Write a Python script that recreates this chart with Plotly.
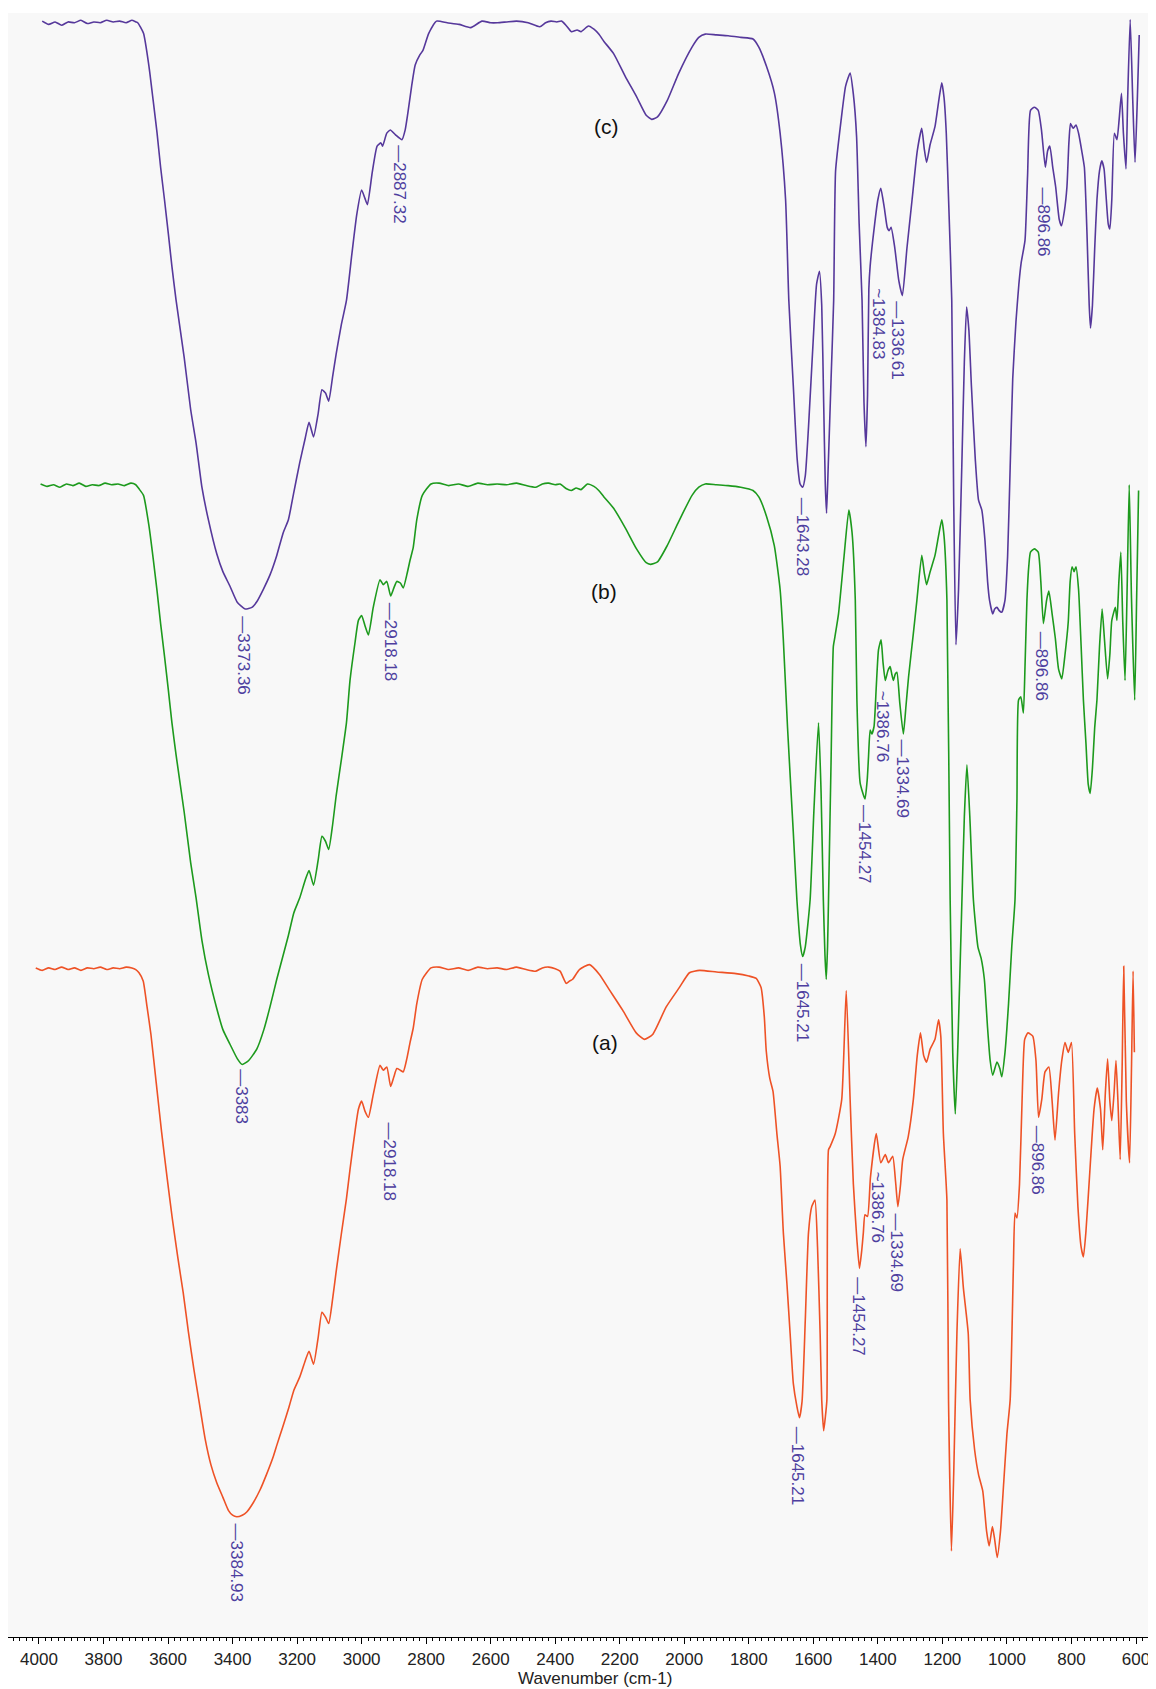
import plotly.graph_objects as go

# ---------------- data (wavenumber cm-1, transmittance a.u.) ----------------
c_w = [3990,3970,3950,3930,3910,3890,3870,3850,3830,3810,3790,3770,3750,3730,3712,3700,3694,3676,3659,3646,3634,3623,3611,3599,3588,3575,3550,3530,3513,3495,3475,3449,3430,3408,3385,3361,3340,3325,3305,3284,3263,3243,3227,3210,3192,3175,3163,3149,3135,3123,3112,3102,3090,3079,3063,3047,3030,3015,3000,2990,2982,2967,2952,2940,2935,2922,2911,2895,2875,2865,2857,2845,2834,2820,2810,2792,2768,2735,2698,2662,2627,2600,2579,2550,2520,2484,2448,2430,2413,2395,2380,2365,2350,2332,2320,2297,2280,2265,2249,2219,2183,2148,2118,2101,2083,2053,2017,1976,1955,1935,1900,1864,1825,1787,1769,1745,1721,1703,1686,1676,1662,1650,1641,1633,1625,1615,1600,1590,1581,1574,1568,1563,1559,1554,1545,1537,1531,1514,1500,1486,1476,1466,1458,1449,1443,1437,1432,1428,1424,1410,1400,1391,1380,1371,1365,1359,1348,1335,1324,1310,1294,1278,1264,1256,1249,1238,1223,1212,1202,1195,1188,1180,1171,1165,1158,1150,1140,1132,1125,1118,1110,1098,1088,1078,1068,1060,1054,1044,1038,1031,1024,1016,1006,998,990,982,972,963,956,944,936,927,915,903,893,881,874,867,858,849,838,831,822,814,808,803,795,786,778,768,760,752,745,741,735,728,721,713,706,699,693,686,681,675,667,659,652,645,639,631,626,618,610,603,596,590]
c_t = [99.5,99.3,99.45,99.25,99.45,99.4,99.55,99.35,99.45,99.4,99.55,99.45,99.5,99.4,99.55,99.45,99.4,98.75,96.7,94.6,92.6,90.5,88.5,86.4,84.4,82.3,78.8,75.6,73.5,70.8,68.8,66.7,65.6,64.7,63.7,63.3,63.4,63.75,64.5,65.4,66.6,68.0,68.8,70.5,72.3,73.8,74.8,73.9,75.3,76.8,76.6,76.1,77.6,79.0,80.8,82.3,85.2,87.6,89.1,88.6,88.2,90.2,91.8,92.0,91.8,92.6,92.8,92.5,92.2,92.8,93.8,95.5,96.8,97.4,97.7,98.75,99.5,99.4,99.3,99.1,99.5,99.4,99.4,99.45,99.5,99.4,99.15,99.4,99.5,99.45,99.5,99.2,98.85,98.95,98.85,99.2,99.0,98.7,98.25,97.5,96.1,94.85,93.7,93.45,93.6,94.6,96.3,97.9,98.5,98.7,98.65,98.6,98.5,98.4,97.9,96.7,95.1,92.6,88.5,82.3,77.0,72.5,71.0,70.8,71.5,74.5,80.0,83.3,84.1,82.0,76.0,71.0,69.2,72.0,77.5,82.3,90.3,93.4,95.5,96.3,95.0,92.4,87.0,82.3,76.0,73.3,76.5,83.0,84.4,87.0,88.5,89.2,88.0,86.8,86.6,86.8,85.6,83.5,82.6,85.5,88.5,91.5,92.9,91.6,90.8,91.9,93.0,94.5,95.7,94.8,92.6,88.0,82.3,70.0,61.1,64.5,72.0,78.5,81.9,80.5,77.0,72.5,70.0,69.4,67.5,65.0,63.85,63.0,63.3,63.4,63.2,63.1,63.85,66.5,72.0,77.5,81.0,83.3,84.6,86.0,90.0,94.0,94.2,94.0,92.8,90.5,91.5,91.8,90.5,89.3,87.3,86.9,87.8,89.3,92.0,93.2,92.9,93.1,92.6,91.5,90.5,86.5,82.0,80.6,82.0,85.5,88.5,90.3,90.9,90.4,88.8,87.0,86.7,88.5,92.6,92.2,93.5,95.05,92.6,90.4,94.6,99.6,94.6,90.8,94.6,98.65]

b_w = [3995,3975,3955,3935,3915,3895,3875,3855,3835,3815,3795,3775,3755,3735,3715,3700,3690,3676,3659,3646,3634,3623,3611,3599,3588,3575,3550,3530,3513,3495,3475,3449,3430,3408,3385,3370,3350,3325,3303,3284,3263,3243,3227,3210,3192,3175,3163,3149,3135,3123,3112,3102,3090,3079,3063,3047,3036,3020,3010,3000,2990,2979,2964,2943,2933,2922,2910,2900,2891,2880,2871,2860,2850,2840,2829,2812,2785,2760,2730,2700,2670,2640,2610,2580,2550,2520,2490,2460,2440,2420,2400,2385,2365,2350,2335,2320,2300,2280,2265,2249,2219,2183,2148,2118,2105,2083,2053,2017,1976,1955,1935,1900,1864,1825,1787,1769,1745,1721,1703,1693,1680,1662,1651,1640,1633,1625,1610,1598,1584,1576,1569,1564,1560,1556,1553,1545,1538,1533,1522,1505,1490,1480,1470,1465,1455,1440,1433,1429,1424,1419,1412,1405,1398,1390,1384,1377,1369,1362,1357,1352,1346,1341,1332,1321,1313,1305,1290,1279,1264,1256,1249,1238,1223,1212,1202,1195,1186,1176,1168,1160,1152,1140,1132,1124,1115,1104,1090,1080,1070,1060,1052,1044,1031,1022,1016,1006,995,985,975,969,964,957,949,944,938,932,927,915,903,895,887,877,870,860,850,840,830,820,810,804,798,792,786,778,770,763,755,748,742,735,728,721,713,705,698,688,681,675,664,659,653,647,641,634,628,621,614,604,598,592]
b_t = [71.0,70.85,70.95,70.8,71.0,70.9,71.05,70.85,70.95,70.9,71.05,70.95,71.0,70.9,71.05,70.95,70.7,70.3,68.4,66.4,64.4,62.4,60.4,58.3,56.3,54.3,50.8,47.7,45.5,42.9,40.8,38.7,37.4,36.5,35.6,35.25,35.5,36.2,37.4,38.8,40.5,42.0,43.2,44.6,45.5,46.6,47.2,46.3,47.8,49.3,49.0,48.5,50.0,51.8,54.0,56.3,58.9,61.3,62.6,62.9,62.3,61.7,63.4,65.1,64.8,65.0,64.1,64.6,65.0,64.9,64.6,65.4,66.3,67.1,68.8,70.3,71.0,71.05,70.9,71.0,70.85,71.05,70.95,71.0,70.95,71.05,70.9,70.8,71.0,71.05,70.95,71.0,70.7,70.6,70.75,70.65,71.0,70.85,70.6,70.2,69.5,68.3,67.0,66.15,66.05,66.2,67.2,68.7,70.3,70.8,71.0,70.95,70.9,70.8,70.6,70.2,69.0,67.2,64.5,61.4,56.0,49.5,45.4,42.6,41.9,42.5,45.4,51.0,56.3,52.0,45.4,42.0,40.5,42.5,45.4,54.0,61.0,61.6,63.0,66.5,69.4,68.0,63.85,57.7,52.6,51.6,52.8,54.2,55.85,55.6,56.05,58.5,60.8,61.4,60.0,58.9,59.5,59.75,59.3,58.9,59.3,59.4,57.5,55.6,57.3,59.1,61.8,63.85,66.6,65.5,64.8,65.6,66.6,67.8,68.8,67.8,63.85,45.4,36.0,32.2,36.5,45.0,50.5,53.7,50.5,45.4,42.5,41.8,40.5,37.5,35.5,34.6,35.4,35.0,34.5,36.0,39.0,42.5,45.4,51.5,57.7,57.9,56.9,59.75,63.85,66.0,66.8,67.0,66.8,65.0,62.4,63.85,64.4,63.0,61.5,59.6,59.0,60.5,62.5,65.0,65.9,65.6,65.9,64.5,61.0,57.7,55.0,52.5,51.95,53.5,56.0,57.7,61.0,63.3,61.5,59.0,60.5,62.6,63.4,62.6,65.0,66.8,62.5,58.9,64.0,70.95,64.0,57.7,64.0,70.6]

a_w = [4010,3990,3970,3950,3930,3910,3890,3870,3850,3830,3810,3790,3770,3750,3730,3712,3700,3690,3677,3665,3653,3637,3620,3603,3587,3570,3553,3537,3520,3503,3485,3467,3449,3430,3413,3400,3387,3370,3356,3335,3315,3295,3274,3263,3245,3226,3210,3192,3175,3163,3149,3135,3123,3112,3102,3090,3079,3063,3047,3036,3020,3010,3000,2990,2979,2964,2943,2933,2922,2910,2900,2891,2880,2871,2860,2850,2840,2829,2812,2785,2760,2730,2700,2670,2640,2610,2580,2550,2520,2490,2460,2440,2420,2400,2385,2366,2355,2346,2325,2294,2263,2232,2191,2149,2124,2098,2056,2015,1984,1953,1900,1840,1800,1777,1762,1752,1746,1735,1725,1713,1703,1693,1682,1672,1662,1651,1643,1635,1625,1615,1605,1595,1587,1579,1574,1568,1563,1558,1553,1548,1532,1512,1498,1486,1476,1465,1457,1450,1445,1440,1432,1423,1405,1391,1377,1367,1354,1345,1338,1330,1323,1306,1290,1278,1268,1258,1249,1238,1223,1212,1205,1197,1186,1181,1172,1165,1155,1145,1135,1120,1114,1100,1088,1075,1063,1055,1045,1038,1030,1020,1010,1000,990,980,975,969,961,953,945,935,920,910,902,892,882,870,860,851,840,830,820,810,800,790,780,770,763,755,742,730,720,710,703,695,688,681,675,668,662,656,649,643,638,630,620,614,609,605]
a_t = [41.2,41.05,41.2,41.1,41.25,41.1,41.2,41.05,41.2,41.15,41.25,41.1,41.2,41.15,41.25,41.2,41.1,40.9,40.4,38.8,37.1,34.2,31.1,28.3,25.8,23.4,21.2,18.8,16.5,14.4,12.2,10.6,9.5,8.6,7.8,7.5,7.4,7.5,7.7,8.3,9.05,10.0,11.1,11.8,12.9,14.1,15.2,16.0,17.0,17.6,16.8,18.4,20.0,19.7,19.3,20.8,22.5,24.8,27.0,28.8,31.2,32.5,33.0,32.4,32.0,33.4,35.2,34.9,35.1,33.9,34.5,35.0,34.9,34.8,35.6,36.6,37.5,39.0,40.5,41.2,41.25,41.1,41.2,41.05,41.25,41.15,41.2,41.1,41.25,41.1,41.0,41.2,41.25,41.15,41.0,40.25,40.4,40.5,41.1,41.4,40.8,39.85,38.6,37.2,36.8,37.1,38.8,40.0,40.9,41.05,40.95,40.85,40.7,40.55,40.0,38.2,36.1,34.4,33.6,31.0,29.0,24.9,21.8,18.7,15.6,14.2,13.5,14.5,19.5,24.9,26.5,26.9,24.0,18.7,14.6,12.7,13.5,14.6,30.0,30.2,31.0,33.1,39.8,33.1,27.9,24.45,22.7,23.8,24.9,26.0,25.9,28.3,31.0,29.2,29.7,29.2,29.6,28.0,26.5,27.8,29.4,30.8,33.1,35.8,37.2,35.8,35.4,36.2,36.8,38.0,37.0,31.0,26.9,14.6,5.3,10.0,18.7,23.9,21.5,18.7,14.6,11.5,10.0,9.0,6.5,5.6,6.8,6.0,4.9,6.5,9.5,12.5,14.6,22.8,26.1,25.8,27.9,33.1,36.8,37.2,37.0,35.5,32.0,33.1,34.8,35.1,33.0,30.6,33.5,35.5,36.6,36.0,36.6,31.0,26.5,24.0,23.4,25.0,29.0,32.5,33.8,32.5,30.0,33.5,35.6,33.0,31.8,33.5,35.5,33.0,29.4,35.0,41.3,33.0,29.2,35.0,41.0,36.0]

# peak labels: (wavenumber position, transmittance at label top, text)
c_labels = [(3366, 63.0, "—3373.36"), (2885, 92.0, "—2887.32"), (1633, 70.3, "—1643.28"),
            (1399, 83.2, "~1384.83"), (1339, 82.4, "—1336.61"), (888, 89.4, "—896.86")]
b_labels = [(3373, 35.1, "—3383"), (2912, 63.8, "—2918.18"), (1633, 41.6, "—1645.21"),
            (1440, 51.35, "—1454.27"), (1383, 58.4, "~1386.76"), (1323, 55.4, "—1334.69"),
            (892, 62.0, "—896.86")]
a_labels = [(3389, 7.1, "—3384.93"), (2915, 31.8, "—2918.18"), (1649, 13.1, "—1645.21"),
            (1460, 22.3, "—1454.27"), (1403, 28.75, "~1386.76"), (1341, 26.2, "—1334.69"),
            (905, 31.6, "—896.86")]

series_names = ["(c)", "(b)", "(a)"]
series_label_pos = [(2242, 93.0), (2249, 64.4), (2245, 36.6)]

x_title = "Wavenumber (cm-1)"

# ---------------- styles ----------------
C_COL = "#56389b"
B_COL = "#1d9a1d"
A_COL = "#ee5226"
LBL_COL = "#4e3f9f"
FONT = "Liberation Sans, Arial, sans-serif"

fig = go.Figure()
for w, t, col, name in [(c_w, c_t, C_COL, "(c)"), (b_w, b_t, B_COL, "(b)"), (a_w, a_t, A_COL, "(a)")]:
    fig.add_trace(go.Scatter(x=w, y=t, mode="lines", name=name,
                             line=dict(color=col, width=1.6, shape="spline", smoothing=0.5),
                             showlegend=False, hoverinfo="skip"))

annotations = []
for lbls in (c_labels, b_labels, a_labels):
    for wx, ty, txt in lbls:
        annotations.append(dict(x=wx, y=ty, xref="x", yref="y", text=txt, showarrow=False,
                                textangle=90, xanchor="center", yanchor="top",
                                font=dict(family=FONT, size=17, color=LBL_COL)))
for name, (wx, ty) in zip(series_names, series_label_pos):
    annotations.append(dict(x=wx, y=ty, xref="x", yref="y", text=name, showarrow=False,
                            xanchor="center", yanchor="middle",
                            font=dict(family=FONT, size=21, color="#111111")))
annotations.append(dict(x=2276, y=-0.0255, xref="x", yref="paper", text=x_title, showarrow=False,
                        xanchor="center", yanchor="middle",
                        font=dict(family=FONT, size=17, color="#222222")))

fig.update_layout(
    width=1148, height=1681,
    margin=dict(l=0, r=0, t=5, b=52),
    paper_bgcolor="white", plot_bgcolor="#f8f8f8",
    annotations=annotations,
    xaxis=dict(range=[4096, 538], showgrid=False, zeroline=False,
               showline=True, linecolor="black", linewidth=1.2,
               ticks="outside", ticklen=6, tickwidth=1, tickcolor="black",
               tick0=0, dtick=200,
               tickfont=dict(family=FONT, size=17, color="#222222"),
               minor=dict(dtick=20, ticks="outside", ticklen=3, tickwidth=1, tickcolor="black")),
    yaxis=dict(range=[0, 100], visible=False, showgrid=False, zeroline=False),
)

fig.write_html("out.html")
